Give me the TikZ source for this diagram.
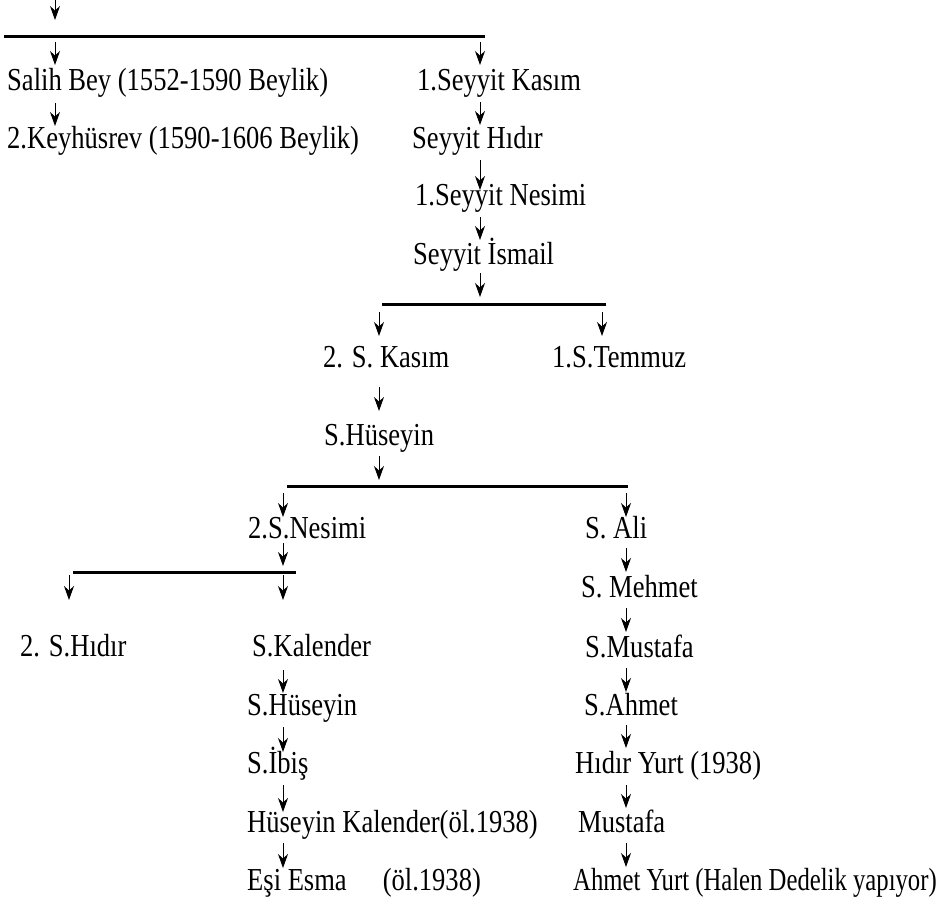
\documentclass[tikz,border=0pt]{standalone}
\usepackage{fontspec}
\setmainfont[FakeStretch=0.83]{Liberation Serif}
\usetikzlibrary{arrows.meta,calc}
\begin{document}
\begin{tikzpicture}[x=1pt,y=-1pt,
  lbl/.style={anchor=base west, inner sep=0pt, font=\fontsize{32}{38}\selectfont},
  arr/.style={line width=1pt, -{Stealth[length=14pt,width=10pt,inset=4.5pt]}},
  bar/.style={line width=3pt}]
\useasboundingbox (0,0) rectangle (943,899);
% column coordinates
\coordinate (cA) at (55,0);
\coordinate (cB) at (480,0);
\coordinate (cC) at (379,0);
\coordinate (cD) at (602,0);
\coordinate (cE) at (283,0);
\coordinate (cF) at (626,0);
\coordinate (cG) at (69,0);
% bars
\coordinate (top) at (55,0);
\coordinate (b1l) at (4,37);   \coordinate (b1r) at (485,37);
\coordinate (b2l) at (382,304); \coordinate (b2r) at (606,304);
\coordinate (b3l) at (287,486); \coordinate (b3r) at (628,486);
\coordinate (b4l) at (73,572);  \coordinate (b4r) at (296,572);
% nodes
\node[lbl] (salih)   at (7,91)   {Salih Bey (1552-1590 Beylik)};
\node[lbl] (key)     at (7,148)  {2.Keyhüsrev (1590-1606 Beylik)};
\node[lbl] (kasim1)  at (417,91) {1.Seyyit Kasım};
\node[lbl] (hidir1)  at (412,148) {Seyyit Hıdır};
\node[lbl] (nesimi1) at (415,205) {1.Seyyit Nesimi};
\node[lbl] (ismail)  at (413,264) {Seyyit İsmail};
\node[lbl] (kasim2)  at (323,367) {2. S. Kasım};
\node[lbl] (temmuz)  at (552,367) {1.S.Temmuz};
\node[lbl] (huseyin1) at (324,445) {S.Hüseyin};
\node[lbl] (nesimi2) at (248,538) {2.S.Nesimi};
\node[lbl] (ali)     at (585,538) {S. Ali};
\node[lbl] (mehmet)  at (581,597) {S. Mehmet};
\node[lbl] (mustafa1) at (585,657) {S.Mustafa};
\node[lbl] (ahmet1)  at (584,715) {S.Ahmet};
\node[lbl] (hidiryurt) at (575,773) {Hıdır Yurt (1938)};
\node[lbl] (mustafa2) at (578,832) {Mustafa};
\node[lbl] (ahmetyurt) at (573,890) {\scalebox{0.93}[1]{Ahmet Yurt (Halen Dedelik yapıyor)}};
\node[lbl] (hidir2)  at (20,656) {2. S.Hıdır};
\node[lbl] (kalender) at (252,656) {S.Kalender};
\node[lbl] (huseyin2) at (247,715) {S.Hüseyin};
\node[lbl] (ibis)    at (247,773) {S.İbiş};
\node[lbl] (hkal)    at (247,832) {Hüseyin Kalender(öl.1938)};
\node[lbl] (esma)    at (247,890) {Eşi Esma\hspace{36pt}(öl.1938)};
% bars
\draw[bar] (b1l) -- (b1r);
\draw[bar] (b2l) -- (b2r);
\draw[bar] (b3l) -- (b3r);
\draw[bar] (b4l) -- (b4r);
% top
\draw[arr] (top) -- ($(b1l -| cA)+(0,-17)$);
\draw[arr] ($(b1l -| cA)+(0,5)$) -- ($(salih.base -| cA)+(0,-26)$);
\draw[arr] ($(b1l -| cB)+(0,5)$) -- ($(kasim1.base -| cB)+(0,-26)$);
\draw[arr] ($(salih.base -| cA)+(0,12)$) -- ($(key.base -| cA)+(0,-22)$);
\draw[arr] ($(kasim1.base -| cB)+(0,11)$) -- ($(hidir1.base -| cB)+(0,-23)$);
\draw[arr] ($(hidir1.base -| cB)+(0,12)$) -- ($(nesimi1.base -| cB)+(0,-15)$);
\draw[arr] ($(nesimi1.base -| cB)+(0,12)$) -- ($(ismail.base -| cB)+(0,-24)$);
\draw[arr] ($(ismail.base -| cB)+(0,9)$) -- ($(b2l -| cB)+(0,-7)$);
\draw[arr] ($(b2l -| cC)+(0,8)$) -- ($(kasim2.base -| cC)+(0,-31)$);
\draw[arr] ($(b2l -| cD)+(0,8)$) -- ($(temmuz.base -| cD)+(0,-31)$);
\draw[arr] ($(kasim2.base -| cC)+(0,20)$) -- ($(huseyin1.base -| cC)+(0,-34)$);
\draw[arr] ($(huseyin1.base -| cC)+(0,11)$) -- ($(b3l -| cC)+(0,-6)$);
\draw[arr] ($(b3l -| cE)+(0,7)$) -- ($(nesimi2.base -| cE)+(0,-21)$);
\draw[arr] ($(b3l -| cF)+(0,7)$) -- ($(ali.base -| cF)+(0,-21)$);
\draw[arr] ($(nesimi2.base -| cE)+(0,5)$) -- ($(b4l -| cE)+(0,-6)$);
\draw[arr] ($(b4l -| cG)+(0,3)$) -- ($(hidir2.base -| cG)+(0,-56)$);
\draw[arr] ($(b4l -| cE)+(0,3)$) -- ($(kalender.base -| cE)+(0,-56)$);
% left chain
\draw[arr] ($(kalender.base -| cE)+(0,14)$) -- ($(huseyin2.base -| cE)+(0,-22)$);
\draw[arr] ($(huseyin2.base -| cE)+(0,12)$) -- ($(ibis.base -| cE)+(0,-21)$);
\draw[arr] ($(ibis.base -| cE)+(0,12)$) -- ($(hkal.base -| cE)+(0,-20)$);
\draw[arr] ($(hkal.base -| cE)+(0,11)$) -- ($(esma.base -| cE)+(0,-22)$);
% right chain
\draw[arr] ($(ali.base -| cF)+(0,10)$) -- ($(mehmet.base -| cF)+(0,-25)$);
\draw[arr] ($(mehmet.base -| cF)+(0,11)$) -- ($(mustafa1.base -| cF)+(0,-25)$);
\draw[arr] ($(mustafa1.base -| cF)+(0,11)$) -- ($(ahmet1.base -| cF)+(0,-23)$);
\draw[arr] ($(ahmet1.base -| cF)+(0,10)$) -- ($(hidiryurt.base -| cF)+(0,-25)$);
\draw[arr] ($(hidiryurt.base -| cF)+(0,12)$) -- ($(mustafa2.base -| cF)+(0,-24)$);
\draw[arr] ($(mustafa2.base -| cF)+(0,11)$) -- ($(ahmetyurt.base -| cF)+(0,-23)$);
\end{tikzpicture}
\end{document}
